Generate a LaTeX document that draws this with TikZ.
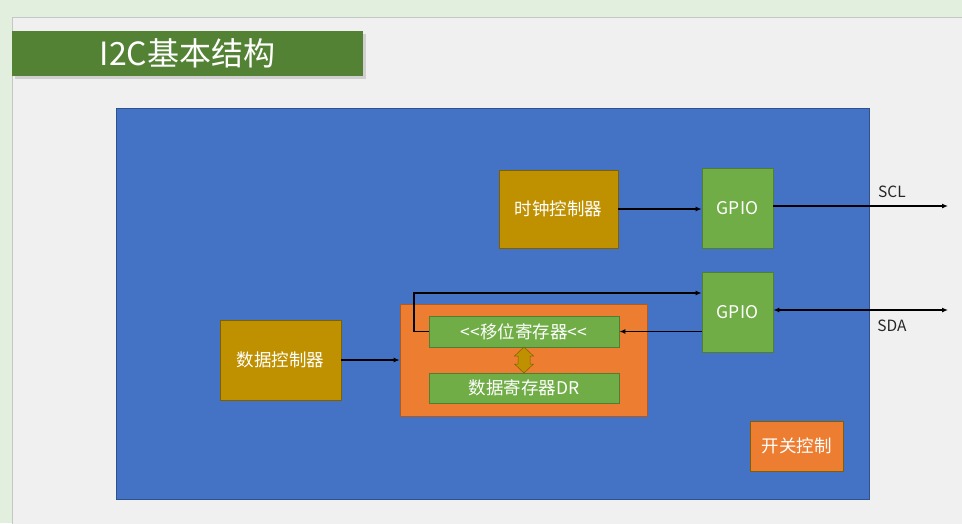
\documentclass[tikz,border=0pt]{standalone}
\usepackage{fontspec}
\usepackage{xcolor}
\usepackage{tikz}
\usetikzlibrary{arrows.meta,positioning,calc,shadows}
\newfontfamily\cjk{Noto Sans CJK SC}
\definecolor{slbg}{RGB}{226,238,222}
\definecolor{slpage}{RGB}{240,240,240}
\definecolor{slrim}{RGB}{196,200,196}
\definecolor{sltitle}{RGB}{84,130,53}
\definecolor{slblue}{RGB}{68,114,196}
\definecolor{slblueedge}{RGB}{47,82,143}
\definecolor{slgold}{RGB}{191,144,0}
\definecolor{slgoldedge}{RGB}{127,96,0}
\definecolor{slgreen}{RGB}{112,173,71}
\definecolor{slgreenedge}{RGB}{80,126,50}
\definecolor{slorange}{RGB}{237,125,49}
\definecolor{slorangeedge}{RGB}{174,90,33}
\tikzset{
  blk/.style={
    draw, line width=0.8pt, align=center, inner sep=0pt,
    text=white, font=\cjk\fontsize{17.5}{20}\selectfont
  },
  ctlbox/.style={blk, fill=slgold, draw=slgoldedge},
  gpiobox/.style={blk, fill=slgreen, draw=slgreenedge},
  regbox/.style={blk, fill=slgreen, draw=slgreenedge},
  hold/.style={blk, fill=slorange, draw=slorangeedge},
  arr/.style={-{Latex[length=6pt,width=5pt]}, draw=black, line width=1.6pt},
  darr/.style={{Latex[length=6pt,width=5pt]}-{Latex[length=6pt,width=5pt]}, draw=black, line width=1.6pt},
  fatarr/.style={fill=slgold, draw=slgoldedge, line width=0.5pt, line join=miter},
  pin/.style={font=\cjk\fontsize{15.5}{18}\selectfont, text=black!85}
}
\begin{document}
\begin{tikzpicture}[x=1pt, y=-1pt]
  \useasboundingbox (0,0) rectangle (962,523);
  % slide background
  \fill[slbg] (0,0) rectangle (962,523);
  \filldraw[fill=slpage, draw=slrim, line width=0.8pt] (12,17) rectangle (975,540);
  % title bar
  \node[fill=sltitle, minimum width=351pt, minimum height=45pt, inner sep=0pt,
        drop shadow={shadow xshift=2.5pt, shadow yshift=-2.5pt, fill=black!30},
        text=white, font=\cjk\fontsize{32}{36}\selectfont] (title) at (187.5,53.5) {I2C基本结构};
  % chip body
  \node[fill=slblue, draw=slblueedge, line width=0.8pt, minimum width=753pt, minimum height=391pt] (chip) at (492.5,303.5) {};
  \node[ctlbox, minimum width=119pt, minimum height=78pt] (clk) at (558.5,209) {时钟控制器};
  \node[gpiobox, minimum width=71pt, minimum height=80pt] (gpioa) at (737.5,208) {GPIO};
  \node[gpiobox, minimum width=71pt, minimum height=80pt] (gpiob) at (737.5,312) {GPIO};
  \node[ctlbox, minimum width=121pt, minimum height=80pt] (dctl) at (280.5,360) {数据控制器};
  \node[hold, minimum width=247pt, minimum height=112pt] (dbox) at (523.5,360) {};
  \node[regbox, minimum width=190pt, minimum height=31pt] (shift) at (524,331.5) {<{}<移位寄存器<{}<};
  \node[regbox, minimum width=190pt, minimum height=30pt] (dr) at (524,388) {数据寄存器DR};
  \node[hold, draw=slgoldedge, minimum width=93pt, minimum height=50pt] (sw) at (796.5,446) {开关控制};
  % two-way transfer between the registers
  \coordinate (xfer) at ($(shift.south)!0.5!(dr.north)$);
  \filldraw[fatarr, shift={(xfer)}] (0,-13) -- (9.5,-4) -- (6,-4) -- (6,4) -- (9.5,4)
    -- (0,13) -- (-9.5,4) -- (-6,4) -- (-6,-4) -- (-9.5,-4) -- cycle;
  % outside pins
  \coordinate (scl) at (948,206);
  \coordinate (sda) at (948,310);
  \coordinate (loop) at (414,293);
  \node[pin] (scltxt) at (892,192) {SCL};
  \node[pin] (sdatxt) at (892,326) {SDA};
  % connections
  \draw[arr] (clk.east) -- (gpioa.west |- clk.east);
  \draw[arr] (gpioa.east |- scl) -- (scl);
  \draw[darr] (gpiob.east |- sda) -- (sda);
  \draw[arr] (dctl.east) -- (dbox.west);
  \draw[arr] (gpiob.west |- shift.east) -- (shift.east);
  \draw[arr] (shift.west) -| (loop) -- (gpiob.west |- loop);
\end{tikzpicture}
\end{document}
